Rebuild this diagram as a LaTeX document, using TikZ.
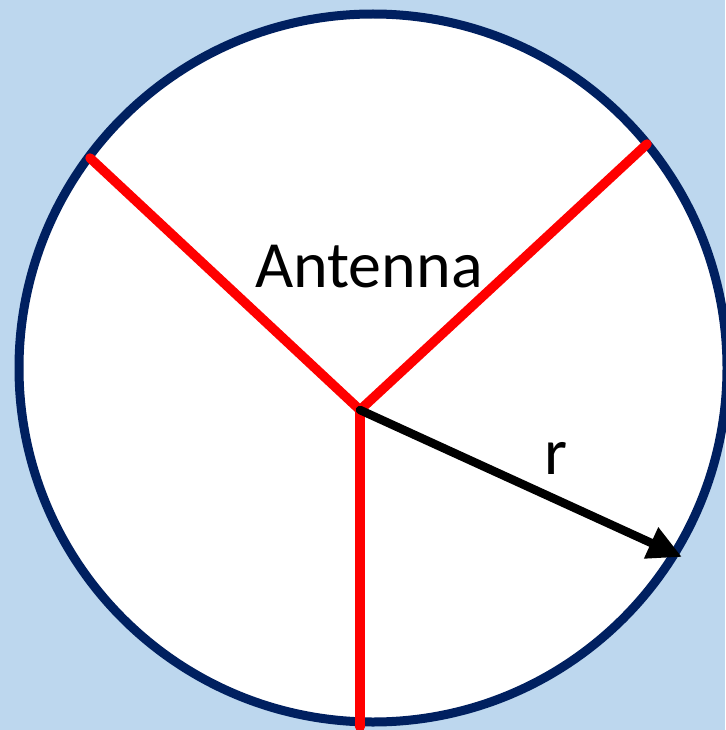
\documentclass[tikz,border=0pt]{standalone}
\usepackage{fontspec}
\setmainfont{Carlito}
\usetikzlibrary{arrows.meta}
\definecolor{bgblue}{HTML}{BDD7EE}
\definecolor{navy}{HTML}{002060}
\begin{document}
\begin{tikzpicture}[x=1pt,y=-1pt,
  rim/.style={draw=navy,line width=9pt,fill=white},
  element/.style={draw=red,line width=9.5pt,line cap=round},
  radius arrow/.style={draw=black,line width=8.5pt,line cap=round,-{Triangle[length=34pt,width=32pt]}},
  label/.style={font=\fontsize{66}{78}\selectfont,inner sep=0pt,anchor=base}]
\useasboundingbox (0,0) rectangle (725,730);
\fill[bgblue] (0,0) rectangle (725,730);
\path[rim] (373,368) circle (354);
\coordinate (c) at (360,410);
\coordinate (e1) at (90,158);
\coordinate (e2) at (647,144);
\coordinate (e3) at (360,727);
\coordinate (tip) at (682,557);
\draw[element] (c) -- (e1);
\draw[element] (c) -- (e2);
\draw[element] (c) -- (e3);
\draw[radius arrow] (c) -- (tip);
\node[label] (ant) at (369,287) {Antenna};
\node[label] (r) at (556,474) {r};
\end{tikzpicture}
\end{document}
